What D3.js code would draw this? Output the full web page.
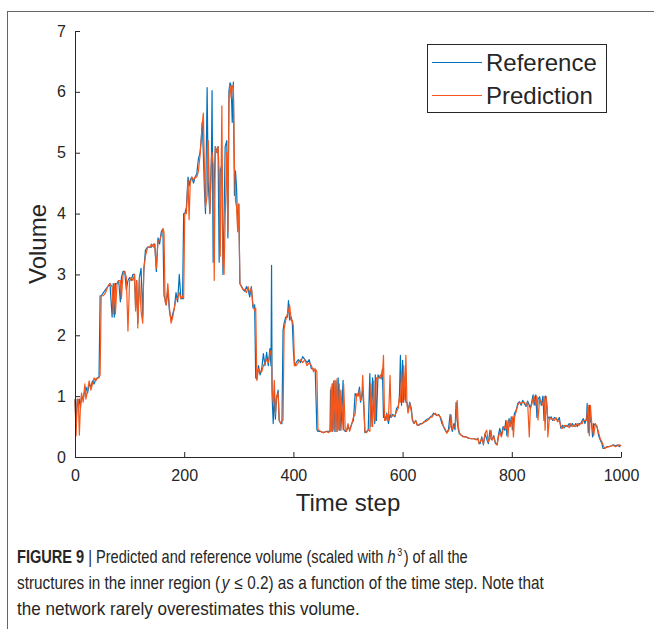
<!DOCTYPE html>
<html>
<head>
<meta charset="utf-8">
<script src="https://cdn.jsdelivr.net/npm/d3@7"></script>
<style>
    body { margin: 0; background: #fff; }
    text { font-family: "Liberation Sans", Arial, Helvetica, sans-serif; fill: #262626; }
</style>
</head>
<body>
<svg></svg>
<script>
"use strict";

// time steps where the curves were sampled (irregular, denser around spikes)
var steps = [
    0, 2, 4, 6, 8, 10, 12, 15, 18, 20, 23, 26, 29, 32, 35, 38, 41, 44, 46, 48,
    52, 56, 60, 64, 68, 70, 72, 74, 77, 80, 83, 85, 88, 91, 94, 97, 100, 103, 106, 109, 111, 113, 115, 118, 121, 124, 126,
    129, 133, 137, 140, 144, 146, 149, 152, 155, 158, 161, 163, 165, 167, 170, 173, 176, 179, 182, 185, 188, 191, 194, 197, 199,
    201, 204, 207, 209, 211, 214, 217, 220, 223, 226, 229, 231, 233, 235, 237, 239, 242, 244, 247, 250, 251, 253, 255, 257, 260, 262, 264, 266, 269, 271, 273, 275, 278, 280, 282, 284, 286, 288, 290, 292, 294, 296, 298, 300,
    302, 305, 308, 311, 314, 317, 320, 323, 326, 329, 331, 333, 336, 339, 342, 345, 348, 351, 354, 357, 359, 360, 361, 363, 365, 367, 369, 372, 374, 377, 379, 381, 383, 386, 389, 391, 393, 396, 398, 400,
    402, 405, 409, 413, 417, 421, 425, 429, 433, 437, 440, 443, 445, 450, 455, 460, 465, 467, 468, 469, 471, 472, 474, 476, 478, 480, 482, 484,
    485, 487, 491, 492, 495, 497, 500, 503, 507, 510, 513, 516, 519, 521, 523, 525, 527, 529, 531, 534, 537, 540, 542, 545, 547, 549, 550, 552, 555, 557, 559, 561, 563, 565, 567, 569, 571, 574, 577, 579, 582, 586, 589, 592, 594, 596, 598, 600,
    602, 604, 606, 608, 610, 613, 616, 618, 621, 624, 627, 630, 633, 636, 639, 642, 645, 648, 651, 654, 657, 660, 663, 666, 669, 672, 675, 678, 681, 684, 687, 689, 691, 694, 696, 698, 700, 702, 704, 707, 711, 716, 721, 726, 731, 735, 738, 740,
    742, 745, 748, 751, 754, 757, 760, 762, 764, 767, 770, 773, 776, 778, 781, 784, 787, 789, 791, 793, 795, 797, 799, 801, 803, 805, 808, 811, 814, 817, 820, 823, 826, 829, 832, 834, 836, 839, 841, 844, 846, 848, 851, 854, 857, 859, 861, 863, 865, 866,
    869, 872, 875, 878, 881, 884, 887, 890, 893, 896, 899, 902, 905, 908, 911, 914, 917, 920, 923, 926, 929, 931, 934, 937, 938, 940, 942, 944, 946, 948, 950, 953, 956, 959, 962, 965, 967, 970, 974, 978, 982, 986, 990, 994, 997, 1000
];

var reference = [
    0.95, 0.5, 0.95, 0.85, 0.95, 0.8, 1.0, 0.95, 1.1, 1.15, 1.05, 1.2, 1.15, 1.25, 1.2, 1.28, 1.3, 1.32, 2.65, 2.65,
    2.7, 2.75, 2.8, 2.85, 2.3, 2.85, 2.3, 2.85, 2.85, 2.9, 2.55, 2.95, 3.05, 3.05, 2.75, 2.9, 2.95, 2.9, 3.0, 3.0, 2.45, 2.9, 2.2, 2.95, 3.1, 2.3, 3.05,
    3.4, 3.45, 3.45, 3.45, 3.5, 3.5, 3.05, 3.6, 3.5, 3.7, 3.75, 2.65, 2.6, 2.5, 2.75, 2.4, 2.25, 2.35, 2.45, 2.7, 2.55, 3.0, 2.6, 2.6, 4.0,
    4.0, 4.1, 4.6, 4.45, 4.55, 4.6, 4.5, 4.6, 4.65, 4.9, 5.0, 5.2, 5.5, 5.0, 4.4, 4.0, 6.07, 4.5, 4.0, 5.0, 6.02, 3.2, 4.5, 5.1, 5.0, 5.1, 3.2, 4.7, 4.8, 3.0, 3.9, 5.1, 5.2, 3.6, 6.02, 6.15, 6.1, 5.5, 6.16, 4.3, 4.7, 4.4, 3.75, 4.15,
    2.85, 2.8, 2.75, 2.72, 2.8, 2.75, 2.63, 2.8, 2.45, 2.5, 1.3, 1.28, 1.5, 1.35, 1.45, 1.7, 1.5, 1.72, 1.5, 1.78, 1.5, 3.15, 1.0, 0.55, 1.0, 0.62, 0.95, 1.1, 0.6, 0.55, 0.55, 2.08, 2.2, 2.3, 2.3, 2.57, 2.25, 2.3, 2.2, 1.75,
    1.5, 1.55, 1.6, 1.55, 1.65, 1.6, 1.55, 1.6, 1.45, 1.45, 1.42, 0.45, 0.42, 0.42, 0.4, 0.42, 0.42, 0.42, 1.1, 0.43, 1.2, 0.42, 1.25, 0.42, 1.25, 0.42, 1.3, 0.44,
    1.1, 0.44, 1.26, 0.45, 0.42, 0.42, 0.5, 0.45, 0.55, 0.6, 1.04, 1.0, 1.05, 1.15, 0.9, 1.0, 1.1, 0.8, 0.4, 0.42, 0.44, 1.37, 0.5, 1.3, 0.8, 0.55, 1.35, 0.6, 1.35, 1.3, 1.3, 1.3, 1.45, 0.65, 0.68, 0.6, 0.72, 0.55, 0.7, 0.65, 0.7, 0.66, 0.8, 0.83, 0.95, 1.67, 0.85, 1.59,
    0.9, 1.3, 0.9, 0.9, 0.75, 0.9, 0.8, 0.6, 0.55, 0.6, 0.52, 0.53, 0.55, 0.55, 0.57, 0.6, 0.62, 0.63, 0.66, 0.68, 0.72, 0.7, 0.68, 0.7, 0.65, 0.55, 0.5, 0.44, 0.4, 0.45, 0.7, 0.5, 0.42, 0.55, 0.45, 0.9, 0.6, 0.45, 0.38, 0.36, 0.34, 0.33, 0.31, 0.3, 0.3, 0.29, 0.3, 0.22,
    0.22, 0.33, 0.2, 0.38, 0.3, 0.22, 0.44, 0.3, 0.28, 0.35, 0.22, 0.2, 0.39, 0.47, 0.35, 0.5, 0.44, 0.6, 0.35, 0.55, 0.63, 0.5, 0.66, 0.45, 0.6, 0.72, 0.77, 0.88, 0.91, 0.85, 0.93, 0.88, 0.83, 0.92, 0.85, 0.8, 0.88, 1.02, 0.85, 1.02, 0.65, 0.95, 0.99, 0.85, 1.0, 0.6, 1.0, 0.99, 0.7, 0.66,
    0.62, 0.66, 0.6, 0.65, 0.63, 0.6, 0.65, 0.47, 0.52, 0.48, 0.52, 0.5, 0.55, 0.5, 0.55, 0.5, 0.55, 0.5, 0.55, 0.55, 0.6, 0.63, 0.55, 0.65, 0.88, 0.4, 0.85, 0.6, 0.55, 0.33, 0.55, 0.52, 0.5, 0.35, 0.28, 0.22, 0.14, 0.14, 0.17, 0.17, 0.18, 0.2, 0.18, 0.2, 0.17, 0.2
];

var prediction = [
    0.95, 0.35, 0.9, 0.95, 0.36, 0.85, 1.05, 0.9, 1.2, 0.95, 1.1, 1.25, 1.1, 1.2, 1.3, 1.25, 1.3, 1.3, 1.35, 2.65,
    2.65, 2.7, 2.8, 2.85, 2.8, 2.35, 2.85, 2.35, 2.85, 2.9, 2.9, 2.6, 3.0, 3.05, 2.95, 2.07, 2.9, 2.95, 2.9, 3.0, 2.4, 2.9, 2.12, 2.95, 2.4, 2.2, 3.1,
    3.3, 3.45, 3.45, 3.5, 3.45, 3.5, 3.1, 3.55, 3.55, 3.65, 3.75, 3.7, 2.55, 2.5, 2.85, 2.45, 2.2, 2.3, 2.45, 2.6, 2.6, 2.7, 2.6, 2.65, 2.6,
    4.0, 4.0, 4.55, 3.9, 4.5, 4.6, 4.55, 4.6, 4.6, 4.7, 4.95, 5.2, 5.45, 5.65, 4.8, 4.1, 4.3, 5.2, 4.0, 4.9, 5.0, 4.8, 2.9, 5.1, 5.0, 5.1, 4.7, 3.3, 5.77, 3.2, 3.0, 3.9, 5.0, 3.7, 5.9, 6.1, 5.9, 6.1, 6.1, 4.8, 4.2, 4.1, 3.7, 4.16,
    2.85, 2.8, 2.75, 2.75, 2.7, 2.8, 2.7, 2.78, 2.5, 2.4, 2.45, 1.26, 1.45, 1.4, 1.4, 1.5, 1.55, 1.6, 1.55, 1.7, 1.75, 1.6, 1.1, 0.9, 1.26, 0.7, 1.0, 1.05, 0.6, 0.55, 0.6, 0.6, 2.1, 2.25, 2.35, 2.4, 2.5, 2.25, 2.25, 2.15,
    1.5, 1.5, 1.55, 1.6, 1.55, 1.6, 1.5, 1.55, 1.5, 1.4, 1.45, 1.4, 0.45, 0.42, 0.4, 0.42, 0.4, 0.45, 0.42, 1.15, 0.42, 1.2, 0.45, 1.26, 0.42, 1.29, 0.45, 1.2,
    0.44, 1.1, 0.45, 1.2, 0.44, 0.42, 0.55, 0.42, 0.55, 0.66, 0.7, 1.04, 1.0, 1.1, 0.93, 0.95, 1.34, 0.9, 0.42, 0.4, 0.45, 0.42, 1.2, 0.5, 1.25, 0.6, 0.6, 1.3, 1.3, 1.3, 1.35, 1.28, 1.35, 1.67, 0.6, 0.6, 0.7, 0.6, 1.34, 0.66, 0.68, 0.68, 0.75, 0.8, 0.99, 0.9, 1.4, 0.9,
    1.5, 0.95, 1.67, 0.88, 0.72, 0.88, 0.75, 0.62, 0.55, 0.6, 0.52, 0.52, 0.54, 0.55, 0.58, 0.58, 0.6, 0.62, 0.65, 0.66, 0.7, 0.72, 0.68, 0.69, 0.66, 0.6, 0.5, 0.46, 0.39, 0.43, 0.5, 0.69, 0.45, 0.5, 0.5, 0.65, 0.93, 0.5, 0.4, 0.36, 0.33, 0.33, 0.31, 0.3, 0.3, 0.28, 0.31, 0.22,
    0.25, 0.3, 0.22, 0.39, 0.44, 0.25, 0.3, 0.44, 0.28, 0.33, 0.24, 0.2, 0.35, 0.4, 0.33, 0.45, 0.5, 0.45, 0.6, 0.33, 0.6, 0.5, 0.6, 0.66, 0.33, 0.65, 0.75, 0.85, 0.9, 0.88, 0.9, 0.9, 0.85, 0.9, 0.33, 0.8, 0.85, 0.95, 1.0, 0.85, 1.0, 0.61, 0.95, 0.9, 0.85, 0.99, 0.44, 0.99, 0.8, 0.33,
    0.66, 0.62, 0.62, 0.6, 0.65, 0.58, 0.6, 0.5, 0.47, 0.52, 0.5, 0.52, 0.48, 0.55, 0.5, 0.52, 0.5, 0.55, 0.52, 0.55, 0.55, 0.6, 0.6, 0.6, 0.7, 0.85, 0.35, 0.85, 0.6, 0.45, 0.35, 0.55, 0.5, 0.4, 0.3, 0.25, 0.2, 0.14, 0.16, 0.17, 0.18, 0.19, 0.17, 0.19, 0.2, 0.18
];

var xTicks = [0, 200, 400, 600, 800, 1000];
var yTicks = [0, 1, 2, 3, 4, 5, 6, 7];
var seriesNames = ['Reference', 'Prediction'];

var settings = {
    svg: { width: 654, height: 629 },
    plot: { left: 75, right: 621, top: 31, bottom: 457 },
    axisColor: '#262626',
    colors: ['#0072BD', '#F5561A'],
    tickLen: 5
};

var svg = d3.select('svg')
    .attr('width', settings.svg.width)
    .attr('height', settings.svg.height);

// page frame (left + top edge of the figure panel)
svg.append('rect')
    .attr('x', 7.5).attr('y', 11.5)
    .attr('width', 700).attr('height', 700)
    .attr('fill', 'none')
    .attr('stroke', '#666')
    .attr('stroke-width', 1);

var x = d3.scaleLinear().domain([0, 1000]).range([settings.plot.left, settings.plot.right]);
var y = d3.scaleLinear().domain([0, 7]).range([settings.plot.bottom, settings.plot.top]);

var line = d3.line()
    .x(d => x(d[0]))
    .y(d => y(d[1]));

var plot = svg.append('g').attr('class', 'lines');

[reference, prediction].forEach((vals, i) => {
    plot.append('path')
        .datum(d3.zip(steps, vals))
        .attr('d', line)
        .attr('fill', 'none')
        .attr('stroke', settings.colors[i])
        .attr('stroke-width', 1.2)
        .attr('stroke-linejoin', 'round');
});

// axes, MATLAB style: ticks pointing inward
var xAxis = svg.append('g')
    .attr('transform', `translate(0,${settings.plot.bottom})`)
    .call(d3.axisBottom(x).tickValues(xTicks).tickFormat(d3.format('d'))
        .tickSizeInner(-settings.tickLen).tickSizeOuter(0).tickPadding(13));

var yAxis = svg.append('g')
    .attr('transform', `translate(${settings.plot.left},0)`)
    .call(d3.axisLeft(y).tickValues(yTicks).tickFormat(d3.format('d'))
        .tickSizeInner(-settings.tickLen).tickSizeOuter(0).tickPadding(9));

[xAxis, yAxis].forEach(g => {
    g.select('.domain').attr('stroke', settings.axisColor).attr('stroke-width', 1);
    g.selectAll('.tick line').attr('stroke', settings.axisColor);
    g.selectAll('.tick text')
        .attr('fill', settings.axisColor)
        .style('font-size', '16px')
        .style('font-family', '"Liberation Sans", Arial, sans-serif');
});

svg.append('text')
    .attr('x', (settings.plot.left + settings.plot.right) / 2)
    .attr('y', 511)
    .attr('text-anchor', 'middle')
    .style('font-size', '24px')
    .text('Time step');

svg.append('text')
    .attr('transform', `translate(46,${(settings.plot.top + settings.plot.bottom) / 2}) rotate(-90)`)
    .attr('text-anchor', 'middle')
    .style('font-size', '24px')
    .text('Volume');

// legend
var legend = svg.append('g').attr('class', 'legend');
legend.append('rect')
    .attr('x', 427.5).attr('y', 44.5)
    .attr('width', 179).attr('height', 68)
    .attr('fill', '#fff')
    .attr('stroke', settings.axisColor)
    .attr('stroke-width', 1);

legend.selectAll('g.item')
    .data(seriesNames)
    .enter()
    .append('g')
    .attr('class', 'item')
    .attr('transform', (d, i) => `translate(0,${62.5 + i * 33})`)
    .each(function (d, i) {
        var g = d3.select(this);
        g.append('line')
            .attr('x1', 432).attr('x2', 482)
            .attr('y1', 0).attr('y2', 0)
            .attr('stroke', settings.colors[i])
            .attr('stroke-width', 1.2);
        g.append('text')
            .attr('x', 486)
            .attr('y', 8.5)
            .style('font-size', '24px')
            .attr('fill', '#000')
            .text(d);
    });

// caption: the original uses a condensed face, so each line is squeezed
// horizontally to the width it has in the figure
var caption = svg.append('g').attr('class', 'caption').style('font-size', '18px');

function captionLine(yPos, width, parts) {
    var g = caption.append('g');
    var t = g.append('text').attr('x', 0).attr('y', 0);
    parts.forEach(p => {
        var s = t.append('tspan').text(p.text);
        if (p.bold) s.style('font-weight', 'bold');
        if (p.italic) s.style('font-style', 'italic');
        if (p.dx) s.attr('dx', p.dx);
        if (p.dy) s.attr('dy', p.dy);
        if (p.small) s.style('font-size', '11px');
    });
    var natural = t.node().getComputedTextLength();
    g.attr('transform', `translate(17,${yPos}) scale(${width / natural},1)`);
}

captionLine(563, 448, [
    { text: 'FIGURE 9', bold: true },
    { text: ' | Predicted and reference volume (scaled with ' },
    { text: 'h', italic: true },
    { text: '3', small: true, dx: 2, dy: -7 },
    { text: ') of all the', dx: 2, dy: 7 }
]);
captionLine(589, 525, [
    { text: 'structures in the inner region (' },
    { text: 'y', italic: true, dx: 2 },
    { text: ' \u2264 0.2) as a function of the time step. Note that', dx: 1 }
]);
captionLine(615, 343, [
    { text: 'the network rarely overestimates this volume.' }
]);
</script>
</body>
</html>
